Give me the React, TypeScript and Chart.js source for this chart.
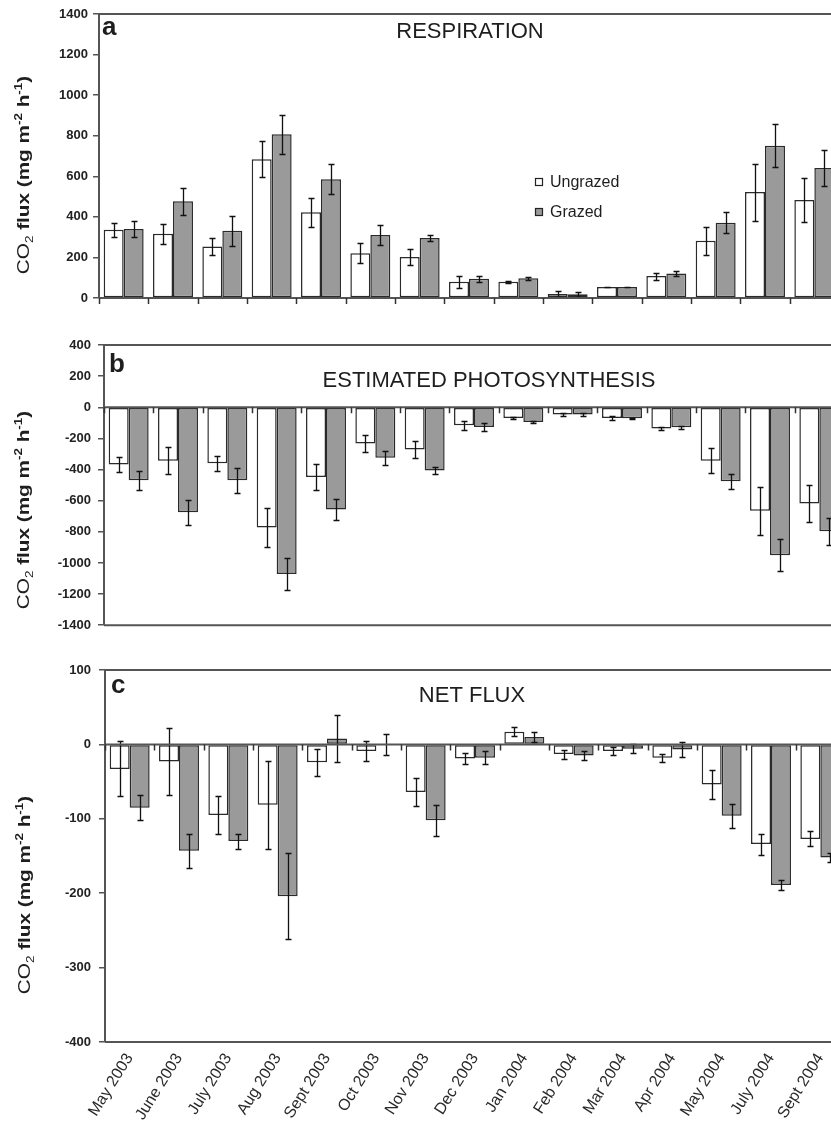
import React, { useEffect, useRef } from 'react';
import Chart from 'chart.js/auto';

const categories = ['May 2003', 'June 2003', 'July 2003', 'Aug 2003', 'Sept 2003', 'Oct 2003', 'Nov 2003', 'Dec 2003', 'Jan 2004', 'Feb 2004', 'Mar 2004', 'Apr 2004', 'May 2004', 'July 2004', 'Sept 2004'];
const seriesNames = ['Ungrazed', 'Grazed'];

const respUngrazed = [336, 317, 254, 684, 423, 221, 202, 80, 80, 20, 54, 108, 282, 522, 483];
const respUngrazedErr = [33, 49, 43, 89, 72, 48, 39, 30, 6, 13, 2, 17, 69, 140, 110];
const respGrazed = [340, 477, 331, 807, 586, 310, 296, 95, 97, 18, 54, 121, 371, 751, 641];
const respGrazedErr = [40, 67, 75, 97, 75, 49, 14, 15, 6, 13, 2, 14, 51, 105, 90];

const photoUngrazed = [-368, -343, -360, -773, -448, -233, -272, -116, -69, -47, -69, -137, -343, -664, -619];
const photoUngrazedErr = [47, 88, 47, 126, 83, 54, 53, 27, 4, 10, 10, 10, 81, 154, 118];
const photoGrazed = [-469, -675, -469, -1071, -657, -325, -407, -126, -94, -47, -71, -128, -475, -951, -797];
const photoGrazedErr = [62, 79, 79, 102, 69, 43, 21, 28, 4, 8, 3, 10, 47, 103, 85];

const netUngrazed = [-33, -23, -95, -81, -24, -9, -64, -19, 17, -13, -9, -18, -54, -134, -127];
const netUngrazedErr = [37, 45, 25, 59, 18, 13, 19, 8, 6, 6, 5, 5, 19, 14, 10];
const netGrazed = [-85, -143, -130, -204, 8, 0, -102, -18, 10, -15, -6, -7, -96, -189, -152];
const netGrazedErr = [17, 23, 10, 58, 32, 14, 21, 9, 7, 6, 6, 10, 16, 7, 6];

const ticksA = [0, 200, 400, 600, 800, 1000, 1200, 1400];
const ticksB = [-1400, -1200, -1000, -800, -600, -400, -200, 0, 200, 400];
const ticksC = [-400, -300, -200, -100, 0, 100];

const panelTitles = ['RESPIRATION', 'ESTIMATED PHOTOSYNTHESIS', 'NET FLUX'];
const panelLetters = ['a', 'b', 'c'];
const yTitleParts = [
  { t: 'CO', bold: false, small: false, shift: 0 },
  { t: '2', bold: false, small: true, shift: 4 },
  { t: ' flux (mg m', bold: true, small: false, shift: 0 },
  { t: '-2', bold: true, small: true, shift: -7 },
  { t: ' h', bold: true, small: false, shift: 0 },
  { t: '-1', bold: true, small: true, shift: -7 },
  { t: ')', bold: true, small: false, shift: 0 },
];

const FONT = '"Liberation Sans", Arial, Helvetica, sans-serif';
const FRAME = '#555555';
const INK = '#1e1e1e';

const decorPlugin = {
  id: 'decor',
  afterDatasetsDraw(chart: any, _args: any, opts: any) {
    const { ctx, chartArea: ca, scales } = chart;
    const y = scales.y;
    ctx.save();
    // error bars
    ctx.strokeStyle = '#111';
    ctx.lineWidth = 1.3;
    chart.data.datasets.forEach((ds: any, i: number) => {
      const meta = chart.getDatasetMeta(i);
      meta.data.forEach((bar: any, j: number) => {
        const v = ds.data[j];
        const e = ds.errors[j];
        const yt = Math.round(y.getPixelForValue(v + e)) + 0.5;
        const yb = Math.round(y.getPixelForValue(v - e)) + 0.5;
        const bx = Math.round(bar.x) + 0.5;
        ctx.beginPath();
        ctx.moveTo(bx, yt); ctx.lineTo(bx, yb);
        ctx.moveTo(bx - 3, yt); ctx.lineTo(bx + 3, yt);
        ctx.moveTo(bx - 3, yb); ctx.lineTo(bx + 3, yb);
        ctx.stroke();
      });
    });
    // frame
    ctx.strokeStyle = FRAME;
    ctx.lineWidth = 2;
    ctx.beginPath();
    ctx.moveTo(ca.left, ca.top); ctx.lineTo(ca.right, ca.top);
    ctx.moveTo(ca.left, ca.bottom); ctx.lineTo(ca.right, ca.bottom);
    const y0 = y.getPixelForValue(0);
    ctx.moveTo(ca.left, y0); ctx.lineTo(ca.right, y0);
    ctx.stroke();
    // category ticks at zero line
    const n = chart.data.labels.length;
    const cw = (ca.right - ca.left) / n;
    ctx.lineWidth = 1.5;
    ctx.strokeStyle = '#333';
    ctx.beginPath();
    for (let k = 0; k <= n; k++) {
      const tx = Math.round(ca.left + k * cw) + 0.5;
      ctx.moveTo(tx, y0); ctx.lineTo(tx, y0 + 6);
    }
    ctx.stroke();
    ctx.restore();
  },
  afterDraw(chart: any, _args: any, opts: any) {
    const { ctx } = chart;
    const top = opts.canvasTop;
    ctx.save();
    ctx.fillStyle = INK;
    // panel letter
    ctx.font = `bold 26px ${FONT}`;
    ctx.textAlign = 'left';
    ctx.textBaseline = 'alphabetic';
    ctx.fillText(opts.letter, opts.letterX, opts.letterY - top);
    // panel title
    ctx.font = `22px ${FONT}`;
    ctx.textAlign = 'center';
    ctx.fillText(opts.title, opts.titleX, opts.titleY - top);
    // y-axis title
    ctx.save();
    ctx.translate(opts.yTitleX, opts.yTitleY - top);
    ctx.rotate(-Math.PI / 2);
    ctx.scale(1.22, 1);
    const fontFor = (p: any) => `${p.bold ? 'bold ' : ''}${p.small ? 11 : 17}px ${FONT}`;
    let total = 0;
    yTitleParts.forEach((p) => { ctx.font = fontFor(p); total += ctx.measureText(p.t).width; });
    let cx = -total / 2;
    ctx.textAlign = 'left';
    yTitleParts.forEach((p) => {
      ctx.font = fontFor(p);
      ctx.fillText(p.t, cx, 6 + p.shift);
      cx += ctx.measureText(p.t).width;
    });
    ctx.restore();
    // legend
    if (opts.legend) {
      const items = [
        { label: seriesNames[0], fill: '#ffffff', y: 182 },
        { label: seriesNames[1], fill: '#9a9a9a', y: 212 },
      ];
      ctx.font = `16px ${FONT}`;
      ctx.textAlign = 'left';
      ctx.textBaseline = 'middle';
      items.forEach((it) => {
        ctx.fillStyle = it.fill;
        ctx.fillRect(535, it.y - 4 - top, 8, 8);
        ctx.strokeStyle = '#222';
        ctx.lineWidth = 1.2;
        ctx.strokeRect(535.5, it.y - 4 - top + 0.5, 7, 7);
        ctx.fillStyle = INK;
        ctx.fillText(it.label, 550, it.y - top + 1);
      });
    }
    ctx.restore();
  },
};

type Panel = {
  u: number[]; ue: number[]; g: number[]; ge: number[];
  ticks: number[]; yWidth: number; tickPad: number;
  canvasTop: number; width: number; height: number;
  padTop: number; padBottom: number; showX: boolean;
  decor: any;
};

function buildChart(canvas: HTMLCanvasElement, p: Panel) {
  const min = p.ticks[0];
  const max = p.ticks[p.ticks.length - 1];
  return new Chart(canvas, {
    type: 'bar',
    data: {
      labels: categories,
      datasets: [
        { label: seriesNames[0], data: p.u, errors: p.ue, backgroundColor: '#ffffff', borderColor: '#2a2a2a', borderWidth: 1.5, borderSkipped: false } as any,
        { label: seriesNames[1], data: p.g, errors: p.ge, backgroundColor: '#9a9a9a', borderColor: '#2a2a2a', borderWidth: 1.5, borderSkipped: false } as any,
      ],
    },
    options: {
      responsive: false,
      animation: false,
      devicePixelRatio: 1,
      layout: { padding: { top: p.padTop, bottom: p.padBottom, left: 0, right: 0 } },
      datasets: { bar: { categoryPercentage: 0.81, barPercentage: 1.0 } },
      plugins: {
        legend: { display: false },
        tooltip: { enabled: false },
        decor: { ...p.decor, canvasTop: p.canvasTop },
      } as any,
      scales: {
        x: p.showX
          ? {
              offset: true,
              grid: { display: false, drawTicks: false },
              border: { display: false },
              ticks: { autoSkip: false, maxRotation: 58, minRotation: 58, padding: 8, color: '#2a2a2a', font: { family: FONT, size: 16 } },
              afterFit: (s: any) => { s.height = 87; },
            }
          : { display: false, offset: true },
        y: {
          min, max,
          afterBuildTicks: (s: any) => { s.ticks = p.ticks.map((v) => ({ value: v })); },
          ticks: { padding: p.tickPad, color: '#222', font: { family: FONT, size: 13, weight: 'bold' }, callback: (v: any) => String(v) },
          grid: { drawOnChartArea: false, drawTicks: true, tickLength: 6, color: FRAME, lineWidth: 1.5 },
          border: { display: true, color: FRAME, width: 2 },
          afterFit: (s: any) => { s.width = p.yWidth; },
        },
      },
    } as any,
    plugins: [decorPlugin],
  });
}

const panels: Panel[] = [
  {
    u: respUngrazed, ue: respUngrazedErr, g: respGrazed, ge: respGrazedErr,
    ticks: ticksA, yWidth: 99, tickPad: 5, canvasTop: 0, width: 839, height: 312,
    padTop: 14, padBottom: 14, showX: false,
    decor: { letter: panelLetters[0], letterX: 102, letterY: 35, title: panelTitles[0], titleX: 470, titleY: 38, yTitleX: 23, yTitleY: 175, legend: true },
  },
  {
    u: photoUngrazed, ue: photoUngrazedErr, g: photoGrazed, ge: photoGrazedErr,
    ticks: ticksB, yWidth: 104, tickPad: 7, canvasTop: 320, width: 844, height: 320,
    padTop: 25, padBottom: 14, showX: false,
    decor: { letter: panelLetters[1], letterX: 109, letterY: 372, title: panelTitles[1], titleX: 489, titleY: 387, yTitleX: 23, yTitleY: 510, legend: false },
  },
  {
    u: netUngrazed, ue: netUngrazedErr, g: netGrazed, ge: netGrazedErr,
    ticks: ticksC, yWidth: 105, tickPad: 8, canvasTop: 640, width: 845, height: 489,
    padTop: 30, padBottom: 0, showX: true,
    decor: { letter: panelLetters[2], letterX: 111, letterY: 693, title: panelTitles[2], titleX: 472, titleY: 702, yTitleX: 24, yTitleY: 895, legend: false },
  },
];

export default function App() {
  const r0 = useRef<HTMLCanvasElement>(null);
  const r1 = useRef<HTMLCanvasElement>(null);
  const r2 = useRef<HTMLCanvasElement>(null);
  const refs = [r0, r1, r2];

  useEffect(() => {
    const charts = panels.map((p, i) => buildChart(refs[i].current as HTMLCanvasElement, p));
    return () => charts.forEach((c) => c.destroy());
  }, []);

  return (
    <div style={{ position: 'absolute', left: 0, top: 0, width: 831, height: 1129, overflow: 'hidden', background: '#ffffff' }}>
      {panels.map((p, i) => (
        <canvas
          key={i}
          ref={refs[i]}
          width={p.width}
          height={p.height}
          style={{ position: 'absolute', left: 0, top: p.canvasTop, width: p.width, height: p.height }}
        />
      ))}
    </div>
  );
}
